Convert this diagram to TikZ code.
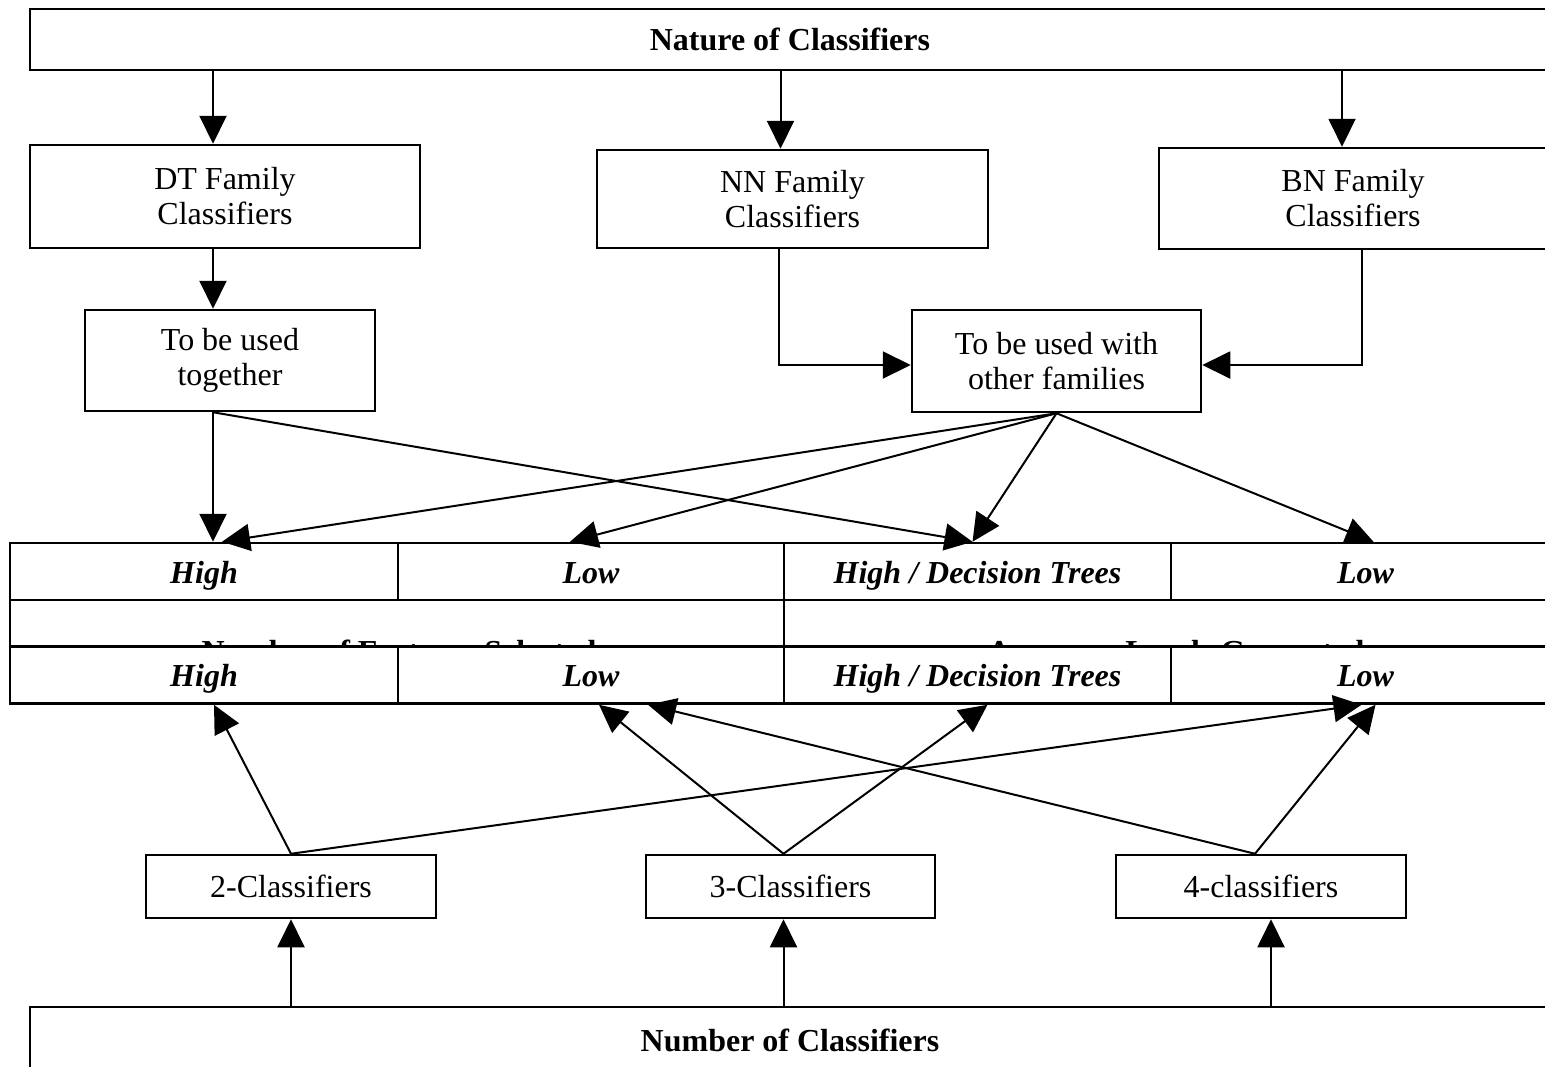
\documentclass[tikz,border=0pt]{standalone}
\usepackage{fontspec}
\setmainfont{Liberation Serif}
\usetikzlibrary{arrows.meta,calc}

\begin{document}
\begin{tikzpicture}[x=0.5pt,y=-0.5pt,
  box/.style={draw,line width=1.25pt,inner sep=0pt,align=center,
    font=\fontsize{16}{17.5}\selectfont},
  headbox/.style={box,font=\fontsize{16}{17.5}\selectfont\bfseries},
  cell/.style={box,fill=white,minimum height=28.5pt,text height=12pt,text depth=0.5pt,
    font=\fontsize{16}{17.5}\selectfont\bfseries\itshape},
  hidden/.style={inner sep=0pt,anchor=base,font=\fontsize{16}{17.5}\selectfont\bfseries},
  arr/.style={line width=1pt,-{Triangle[length=14pt,width=13.5pt]}}]

\useasboundingbox (0,0) rectangle (1545,1066);
\fill[white] (0,0) rectangle (1545,1066);
\clip (0,0) rectangle (1545,1066);

% top level
\node[headbox, minimum width=760pt, minimum height=30.5pt] (nature) at (790,39.5) {Nature of Classifiers};

% classifier families
\node[box, minimum width=195pt, minimum height=51.5pt] (dt) at (225,196.5) {DT Family\\Classifiers};
\node[box, minimum width=195.5pt, minimum height=49pt] (nn) at (792.5,199) {NN Family\\Classifiers};
\node[box, minimum width=194pt, minimum height=50.5pt] (bn) at (1353,198.5) {BN Family\\Classifiers};

% usage
\node[box, minimum width=145pt, minimum height=50.5pt] (tog) at (230,360.5) {To be used\\together};
\node[box, minimum width=144.5pt, minimum height=51pt] (oth) at (1056.5,361) {To be used with\\other families};

% upper table
\node[cell, minimum width=194pt] (hi1) at (204,571.5) {High};
\node[cell, minimum width=193pt] (lo1) at (591,571.5) {Low};
\node[cell, minimum width=193.5pt] (hd1) at (977.5,571.5) {High / Decision Trees};
\node[cell, minimum width=194.5pt] (lo2) at (1365.5,571.5) {Low};
\node[box, minimum width=387pt, minimum height=52pt] (featcell) at (397,652) {};
\node[box, minimum width=388pt, minimum height=52pt] (acccell) at (1172,652) {};
\node[hidden] (feat) at (399,662) {Number of Features Selected};
\node[hidden] (acc) at (1176,662) {Accuracy Levels Generated};

% lower table
\node[cell, minimum width=194pt] (hi2) at (204,675) {High};
\node[cell, minimum width=193pt] (lo3) at (591,675) {Low};
\node[cell, minimum width=193.5pt] (hd2) at (977.5,675) {High / Decision Trees};
\node[cell, minimum width=194.5pt] (lo4) at (1365.5,675) {Low};

% number of classifiers
\node[box, minimum width=145pt, minimum height=31.5pt] (c2) at (291,886.5) {2-Classifiers};
\node[box, minimum width=144.5pt, minimum height=31.5pt] (c3) at (790.5,886.5) {3-Classifiers};
\node[box, minimum width=145pt, minimum height=31.5pt] (c4) at (1261,886.5) {4-classifiers};
\node[headbox, minimum width=760pt, minimum height=33pt] (num) at (790,1040) {Number of Classifiers};

% nature -> families
\coordinate (dtin) at ($(dt.north)+(-12,0)$);
\draw[arr] (nature.south -| dtin) -- (dtin);
\coordinate (nnin) at ($(nn.north)+(-12,0)$);
\draw[arr] (nature.south -| nnin) -- (nnin);
\coordinate (bnin) at ($(bn.north)+(-11,0)$);
\draw[arr] (nature.south -| bnin) -- (bnin);

% families -> usage
\coordinate (togin) at (tog.north -| dtin);
\draw[arr] (dt.south -| togin) -- (togin);
\draw[arr] ($(nn.south)+(-14,0)$) |- ($(oth.west)+(0,4)$);
\draw[arr] ($(bn.south)+(9,0)$) |- ($(oth.east)+(0,4)$);

% usage -> upper table
\coordinate (togout) at (tog.south -| togin);
\coordinate (hdin) at ($(hd1.north)+(-5,0)$);
\draw[arr] (togout) -- (hi1.north -| togout);
\draw[arr] (togout) -- (hdin);
\draw[arr] (oth.south) -- ($(hi1.north)+(18,0)$);
\draw[arr] (oth.south) -- ($(lo1.north)+(-21,0)$);
\draw[arr] (oth.south) -- (hdin);
\draw[arr] (oth.south) -- ($(lo2.north)+(8,0)$);

% number -> classifier counts
\draw[arr] (num.north -| c2.south) -- (c2.south);
\coordinate (c3in) at ($(c3.south)+(-7,0)$);
\draw[arr] (num.north -| c3in) -- (c3in);
\coordinate (c4in) at ($(c4.south)+(10,0)$);
\draw[arr] (num.north -| c4in) -- (c4in);

% classifier counts -> lower table
\draw[arr] (c2.north) -- ($(hi2.south)+(10,0)$);
\draw[arr] (c2.north) -- ($(lo4.south)+(-4,0)$);
\coordinate (c3out) at ($(c3.north)+(-7,0)$);
\draw[arr] (c3out) -- ($(lo3.south)+(8,0)$);
\draw[arr] (c3out) -- ($(hd2.south)+(10,0)$);
\coordinate (c4out) at ($(c4.north)+(-6,0)$);
\draw[arr] (c4out) -- ($(lo3.south)+(57,0)$);
\draw[arr] (c4out) -- ($(lo4.south)+(10,0)$);

\end{tikzpicture}
\end{document}
